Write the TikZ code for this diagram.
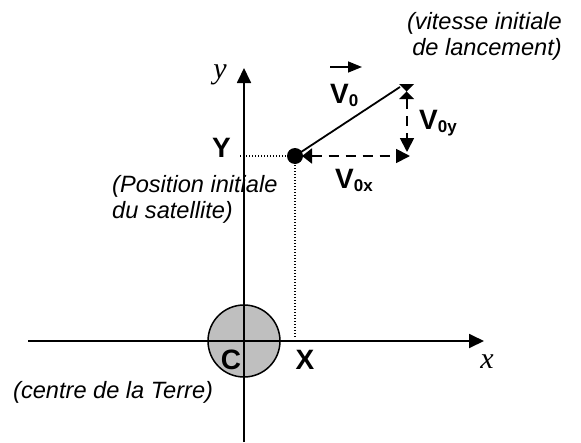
\documentclass[tikz,border=0pt]{standalone}
\usepackage{fontspec}
\setmainfont{Liberation Sans}
\newfontfamily\axisfont{Liberation Serif}
\usetikzlibrary{arrows.meta,positioning,calc}

\newcommand{\indice}[1]{\raisebox{-3pt}{\fontsize{17}{17}\selectfont #1}}

\tikzset{
  axe/.style={line width=1.8pt,-{Triangle[length=15pt,width=14pt]}},
  comp/.style={line width=1.8pt,dash pattern=on 10pt off 7pt},
  repere/.style={line width=1.2pt,dash pattern=on 1pt off 2pt},
  note/.style={font=\fontsize{23.6}{26}\selectfont\itshape,inner sep=0pt},
  lettre/.style={font=\fontsize{28}{30}\selectfont\bfseries,inner sep=0pt},
  nomaxe/.style={font=\fontsize{30}{30}\selectfont\axisfont\itshape,inner sep=0pt},
}

\begin{document}
\begin{tikzpicture}[x=1pt,y=-1pt]
\useasboundingbox (0,0) rectangle (581,442);
% Terre et axes
\coordinate (C) at (244,341);
\draw[line width=1.5pt,fill=gray!50] (C) circle (36);
\coordinate (xg) at (28,341);
\coordinate (xd) at (484,341);
\coordinate (yb) at (244,442);
\coordinate (yh) at (244,68);
\draw[axe] (xg) -- (xd);
\draw[axe] (yb) -- (yh);
\node[nomaxe,anchor=base] (nx) at (487,368) {x};
\node[nomaxe,anchor=base] (ny) at (220,78) {y};
\node[lettre,anchor=base] (lC) at (231,369) {C};
\node[lettre,anchor=base] (lX) at (305,369) {X};
\node[lettre,anchor=base] (lY) at (221.5,157) {Y};
% satellite
\coordinate (O) at (295,156);
\coordinate (Ox) at (302,156);
\coordinate (Ox2) at (410,156);
\coordinate (T) at (400,87);
\coordinate (Ty) at (407,99);
\coordinate (Ty2) at (407,152);
\coordinate (yY) at (240,156);
\coordinate (xX) at (295,338);
\draw[repere] (yY) -- (O);
\draw[repere] (O) -- (xX);
\fill (O) circle (8);
\draw[line width=1.8pt] (O) -- (T);
\fill (399,84) -- (414,84) -- (406.5,91.5) -- (414,99) -- (399,99) -- (406.5,91.5) -- cycle;
\draw[comp,{Triangle[length=10pt,width=15pt]}-{Triangle[length=14pt,width=14pt]}] (Ox) -- (Ox2);
\draw[comp,-{Triangle[length=14pt,width=14pt]}] (Ty) -- (Ty2);
% vecteurs
\node[lettre,anchor=base west] (v0) at (330,103) {V\indice{0}};
\coordinate (fg) at (330,67);
\coordinate (fd) at (362,67);
\draw[line width=1.5pt,-{Triangle[length=14pt,width=11pt]}] (fg) -- (fd);
\node[lettre,anchor=base west] (v0y) at (419,129) {V\indice{0y}};
\node[lettre,anchor=base west] (v0x) at (335,188) {V\indice{0x}};
% textes
\node[note,align=right,anchor=north east] (vit) at (562,12) {(vitesse initiale\\de lancement)};
\node[note,align=left,anchor=north west] (pos) at (112,175) {(Position initiale\\du satellite)};
\node[note,anchor=base west] (ter) at (13,398) {(centre de la Terre)};
\end{tikzpicture}
\end{document}
